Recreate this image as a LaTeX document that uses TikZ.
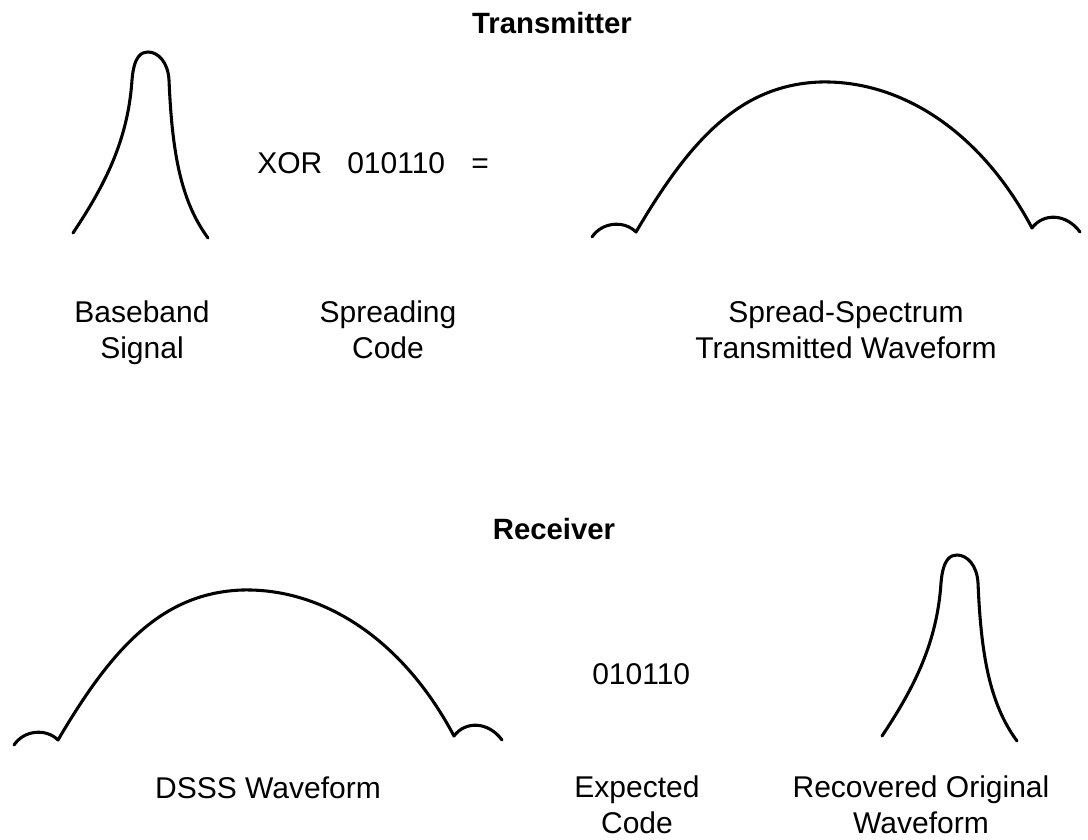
\documentclass[tikz,border=0pt]{standalone}
\usepackage{fontspec}
\setmainfont{Liberation Sans}
\begin{document}
\begin{tikzpicture}[x=0.75pt,y=-0.75pt,
  wave/.style={line width=2.3pt, line join=round, line cap=round},
  lbl/.style={font=\fontsize{22.5}{26.3}\selectfont, align=center, inner sep=0pt, anchor=base},
  ttl/.style={font=\fontsize{22}{26.3}\selectfont\bfseries, inner sep=0pt, anchor=base},
  code/.style={font=\fontsize{22.5}{26.3}\selectfont, inner sep=0pt, anchor=base west}]
\useasboundingbox[fill=white] (0,0) rectangle (1088,839);

% narrow pulse and wide spread spectrum
\tikzset{
  narrowpulse/.pic={\draw[wave] (73,233) .. controls (105,185) and (128,140) .. (132,80)
      .. controls (134,55) and (142,52) .. (148,52)
      .. controls (158,52) and (168,62) .. (169,80)
      .. controls (172,150) and (180,200) .. (208,238);},
  widepulse/.pic={\draw[wave] (592,237) .. controls (602,222) and (624,220) .. (636,232)
      .. controls (690,140) and (740,85) .. (820,82)
      .. controls (900,80) and (980,130) .. (1032,228)
      .. controls (1043,213) and (1066,213) .. (1080,232);}
}

% Transmitter (multi-line labels are anchored on their last line)
\node[ttl] (tx) at (552,33) {Transmitter};
\pic at (0,0) {narrowpulse};
\pic at (0,0) {widepulse};
\node[code] (xor) at (257,173) {XOR};
\node[code] (txcode) at (347,173) {010110};
\node[code] (eq) at (471,173) {=};
\node[lbl] (bb) at (142,358) {Baseband\\Signal};
\node[lbl] (sc) at (388,358) {Spreading\\Code};
\node[lbl] (ss) at (846,358) {Spread-Spectrum\\Transmitted Waveform};

% Receiver
\node[ttl] (rx) at (554,539) {Receiver};
\pic at (-578,508) {widepulse};
\pic at (809,503) {narrowpulse};
\node[code] (rxcode) at (592,684) {010110};
\node[lbl] (dsss) at (268,798) {DSSS Waveform};
\node[lbl] (ec) at (637,833) {Expected\\Code};
\node[lbl] (ro) at (921,833) {Recovered Original\\Waveform};
\end{tikzpicture}
\end{document}
